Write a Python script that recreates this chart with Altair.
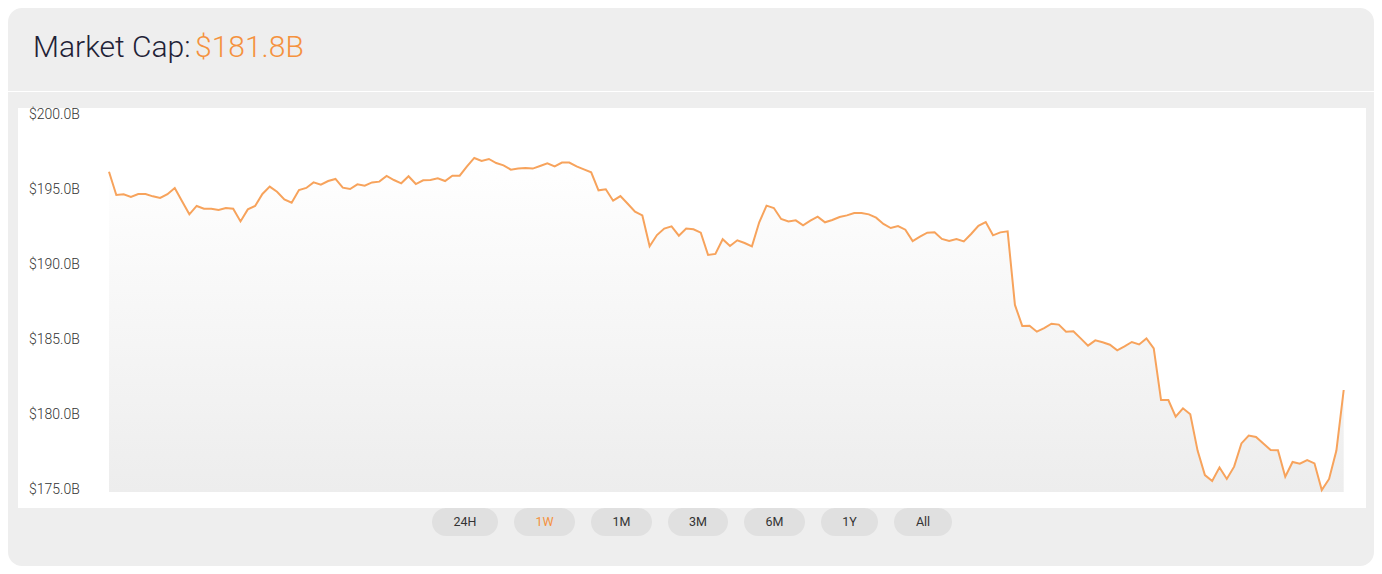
import altair as alt
import pandas as pd

# ---------------- data ----------------
title_label = "Market Cap:"
title_value = "$181.8B"

mcap = [
    196.35, 194.80, 194.85, 194.67, 194.87, 194.87, 194.71, 194.60, 194.85, 195.27,
    194.38, 193.51, 194.07, 193.89, 193.89, 193.80, 193.93, 193.89, 193.04, 193.84,
    194.07, 194.87, 195.36, 195.02, 194.51, 194.29, 195.13, 195.27, 195.64, 195.49,
    195.73, 195.87, 195.29, 195.20, 195.51, 195.42, 195.64, 195.69, 196.07, 195.80,
    195.58, 196.05, 195.53, 195.78, 195.80, 195.91, 195.73, 196.09, 196.09, 196.71,
    197.27, 197.07, 197.20, 196.93, 196.78, 196.49, 196.56, 196.60, 196.56, 196.73,
    196.91, 196.71, 196.96, 196.96, 196.71, 196.51, 196.31, 195.11, 195.18, 194.42,
    194.73, 194.22, 193.69, 193.44, 191.38, 192.13, 192.56, 192.71, 192.09, 192.56,
    192.51, 192.29, 190.80, 190.87, 191.85, 191.40, 191.78, 191.60, 191.38, 192.98,
    194.09, 193.93, 193.20, 193.04, 193.11, 192.78, 193.09, 193.36, 192.98, 193.13,
    193.33, 193.44, 193.60, 193.60, 193.51, 193.29, 192.87, 192.60, 192.73, 192.49,
    191.73, 192.02, 192.29, 192.31, 191.87, 191.73, 191.87, 191.71, 192.20, 192.75,
    193.00, 192.11, 192.31, 192.38, 187.47, 186.07, 186.09, 185.69, 185.93, 186.22,
    186.16, 185.69, 185.71, 185.24, 184.76, 185.11, 184.98, 184.82, 184.44, 184.71,
    185.00, 184.84, 185.24, 184.58, 181.13, 181.13, 180.02, 180.58, 180.18, 177.76,
    176.13, 175.73, 176.64, 175.87, 176.69, 178.24, 178.76, 178.67, 178.24, 177.80,
    177.78, 176.02, 177.00, 176.89, 177.13, 176.91, 175.13, 175.87, 177.76, 181.80,
]
y_ticks = [175, 180, 185, 190, 195, 200]
buttons = ["24H", "1W", "1M", "3M", "6M", "1Y", "All"]
active_button = "1W"

# ---------------- layout / style ----------------
W, H = 1366, 558
ORANGE_LINE = "#f7a35c"
ORANGE_TEXT = "#f5923e"
CARD = "#eeeeee"
FONT = "Roboto"

plot_x0, plot_x1 = 101, 1335.7
plot_ybot, plot_ytop = 484, 109

series = pd.DataFrame({"i": list(range(len(mcap))), "mcap": mcap})
ticks_df = pd.DataFrame({"v": y_ticks, "label": [f"${t:.1f}B" for t in y_ticks]})
one = pd.DataFrame({"a": [0]})

xscale = alt.Scale(domain=[0, len(mcap) - 1], range=[plot_x0, plot_x1])
yscale = alt.Scale(domain=[175, 200], range=[plot_ybot, plot_ytop])


def box(x0, x1, y0, y1, fill, radius=0):
    return alt.Chart(one).mark_rect(fill=fill, cornerRadius=radius).encode(
        x=alt.value(x0), x2=alt.value(x1), y=alt.value(y0), y2=alt.value(y1)
    )


layers = []
# card background
layers.append(box(0, W, 0, H, CARD, 14))
# header separator
layers.append(
    alt.Chart(one).mark_rule(color="white", strokeWidth=1.2).encode(
        x=alt.value(0), x2=alt.value(W), y=alt.value(83.5)
    )
)
# white chart panel
layers.append(box(10, 1358, 100, 500, "white"))

# title
layers.append(
    alt.Chart(one).mark_text(
        text=title_label, font=FONT, fontSize=30, fontWeight=300,
        color="#1f2236", align="left", baseline="alphabetic",
    ).encode(x=alt.value(25), y=alt.value(49))
)
layers.append(
    alt.Chart(one).mark_text(
        text=title_value, font=FONT, fontSize=30, fontWeight=300,
        color=ORANGE_TEXT, align="left", baseline="alphabetic",
    ).encode(x=alt.value(187), y=alt.value(49))
)

# area + line
area = alt.Chart(series).mark_area(
    color=alt.Gradient(
        gradient="linear",
        stops=[alt.GradientStop(color="#ffffff", offset=0),
               alt.GradientStop(color="#ededed", offset=1)],
        x1=1, x2=1, y1=0, y2=1,
    )
).encode(
    x=alt.X("i:Q", scale=xscale, axis=None),
    y=alt.Y("mcap:Q", scale=yscale, axis=None),
    y2=alt.datum(175),
)
line = alt.Chart(series).mark_line(color=ORANGE_LINE, strokeWidth=2).encode(
    x=alt.X("i:Q", scale=xscale, axis=None),
    y=alt.Y("mcap:Q", scale=yscale, axis=None),
)
layers += [area, line]

# y labels
layers.append(
    alt.Chart(ticks_df).mark_text(
        font=FONT, fontSize=14, fontWeight=300, color="#333333", align="left",
        baseline="middle", dy=-2,
    ).encode(
        x=alt.value(21),
        y=alt.Y("v:Q", scale=yscale, axis=None),
        text="label:N",
    )
)

# range buttons
btn_widths = [66, 61, 61, 60, 61, 57, 58]
bx = 424
for lab, bw in zip(buttons, btn_widths):
    layers.append(box(bx, bx + bw, 500, 528, "#e0e0e0", 14))
    layers.append(
        alt.Chart(one).mark_text(
            text=lab, font=FONT, fontSize=12.5, fontWeight=400,
            color=ORANGE_TEXT if lab == active_button else "#333333",
            align="center", baseline="middle",
        ).encode(x=alt.value(bx + bw / 2), y=alt.value(514))
    )
    bx += bw + 16

chart = alt.layer(*layers).properties(
    width=W, height=H,
    autosize=alt.AutoSizeParams(type="none"),
    padding=0,
    background="white",
).configure_view(stroke=None)

chart.save("out.html", embed_options={"renderer": "svg", "actions": False})
